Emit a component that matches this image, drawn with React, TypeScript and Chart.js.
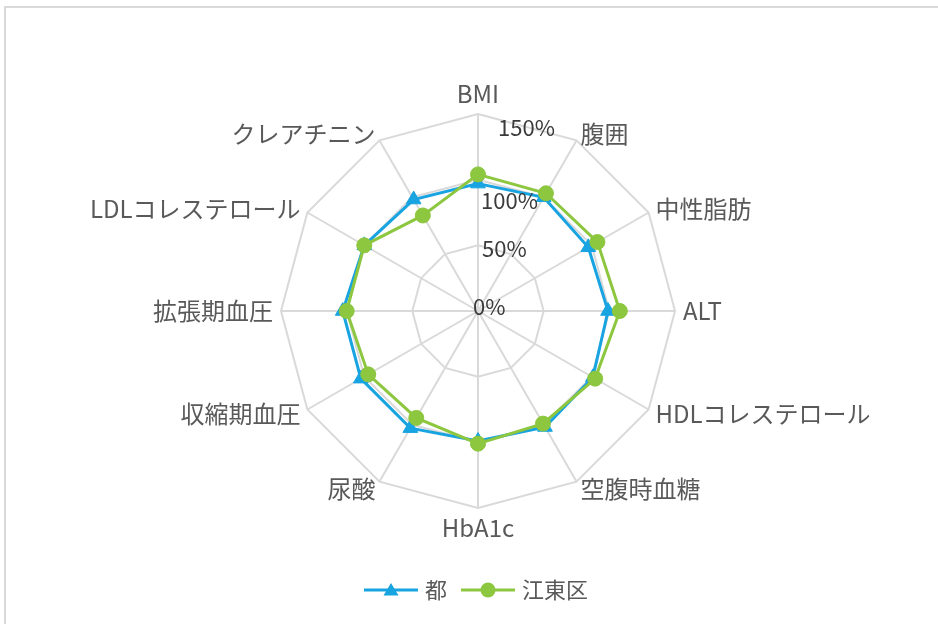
import React, { useEffect, useRef } from 'react';
import { Chart, registerables } from 'chart.js';

Chart.register(...registerables);

// ---- data ----
const CATEGORIES = [
  'BMI',
  '腹囲',
  '中性脂肪',
  'ALT',
  'HDLコレステロール',
  '空腹時血糖',
  'HbA1c',
  '尿酸',
  '収縮期血圧',
  '拡張期血圧',
  'LDLコレステロール',
  'クレアチニン',
];
const SERIES_NAMES = ['都', '江東区'];
const TOKYO_VALUES = [97, 100, 97, 99, 101, 102, 99, 103, 103, 103, 100, 98];
const KOTO_VALUES = [104, 103.5, 105, 108, 103, 99, 101, 94, 96.5, 100, 100, 84];
const SCALE_MIN = 0;
const SCALE_MAX = 150;
const SCALE_STEP = 50;
const TICK_SUFFIX = '%';

// ---- styles ----
const FONT = '"Noto Sans CJK JP", "Noto Sans", sans-serif';
const BLUE = '#18A3E1';
const GREEN = '#8DC63F';
const GRID = '#D9D9D9';
const LABEL_COLOR = '#595959';
const TICK_COLOR = '#3A3A3A';
const POINT_LABEL_GAP = 8;
// tick label nudges (dx from axis, dy from ring), Excel-like placement
const TICK_NUDGE: Record<number, [number, number]> = {
  0: [-5, -4],
  50: [4, 3],
  100: [3, 21],
  150: [20, 14],
};

function makeLegendMarker(color: string, kind: 'triangle' | 'circle') {
  const c = document.createElement('canvas');
  c.width = 54;
  c.height = 20;
  const ctx = c.getContext('2d')!;
  ctx.strokeStyle = color;
  ctx.lineWidth = 3;
  ctx.beginPath();
  ctx.moveTo(0, 10);
  ctx.lineTo(54, 10);
  ctx.stroke();
  ctx.fillStyle = color;
  ctx.beginPath();
  if (kind === 'triangle') {
    ctx.moveTo(27, 3);
    ctx.lineTo(34.5, 15.5);
    ctx.lineTo(19.5, 15.5);
    ctx.closePath();
  } else {
    ctx.arc(27, 10, 7.5, 0, Math.PI * 2);
  }
  ctx.fill();
  return c;
}

const radarTextPlugin = {
  id: 'radarText',
  afterDraw(chart: any) {
    const scale = chart.scales.r;
    const ctx = chart.ctx as CanvasRenderingContext2D;
    ctx.save();
    // category labels
    ctx.font = `24px ${FONT}`;
    ctx.fillStyle = LABEL_COLOR;
    ctx.textBaseline = 'middle';
    const r = scale.drawingArea;
    (chart.data.labels as string[]).forEach((label, i) => {
      const a = scale.getIndexAngle(i);
      const s = Math.sin(a);
      const vertical = Math.abs(s) < 0.01;
      const dist = r + POINT_LABEL_GAP + (vertical ? 12 : 0);
      const p = scale.getPointPosition(i, dist);
      ctx.textAlign = vertical ? 'center' : s > 0 ? 'left' : 'right';
      ctx.fillText(label, p.x, p.y);
    });
    // tick labels
    ctx.font = `22px ${FONT}`;
    ctx.fillStyle = TICK_COLOR;
    ctx.textAlign = 'left';
    ctx.textBaseline = 'middle';
    scale.ticks.forEach((t: any) => {
      const d = scale.getDistanceFromCenterForValue(t.value);
      const [dx, dy] = TICK_NUDGE[t.value] ?? [4, 8];
      ctx.fillText(`${t.value}${TICK_SUFFIX}`, scale.xCenter + dx, scale.yCenter - d + dy);
    });
    ctx.restore();
  },
};

export default function App() {
  const canvasRef = useRef<HTMLCanvasElement | null>(null);

  useEffect(() => {
    if (!canvasRef.current) return;
    Chart.defaults.font.family = FONT;
    const markers = [makeLegendMarker(BLUE, 'triangle'), makeLegendMarker(GREEN, 'circle')];
    const colors = [BLUE, GREEN];
    const chart = new Chart(canvasRef.current, {
      type: 'radar',
      data: {
        labels: CATEGORIES,
        datasets: [
          {
            label: SERIES_NAMES[0],
            data: TOKYO_VALUES,
            borderColor: BLUE,
            backgroundColor: BLUE,
            borderWidth: 3,
            fill: false,
            pointStyle: 'triangle',
            pointRadius: 8.5,
            pointBackgroundColor: BLUE,
            pointBorderColor: BLUE,
            pointBorderWidth: 1,
            order: 1,
          },
          {
            label: SERIES_NAMES[1],
            data: KOTO_VALUES,
            borderColor: GREEN,
            backgroundColor: GREEN,
            borderWidth: 3,
            fill: false,
            pointStyle: 'circle',
            pointRadius: 7.5,
            pointBackgroundColor: GREEN,
            pointBorderColor: GREEN,
            pointBorderWidth: 1,
            order: 0,
          },
        ],
      },
      options: {
        responsive: false,
        animation: false,
        devicePixelRatio: 1,
        layout: { padding: { left: 18, right: 0, top: 114, bottom: 13 } },
        scales: {
          r: {
            min: SCALE_MIN,
            max: SCALE_MAX,
            ticks: { stepSize: SCALE_STEP, display: false },
            pointLabels: { display: false },
            grid: { color: GRID, lineWidth: 2 },
            angleLines: { color: GRID, lineWidth: 2 },
          },
        },
        plugins: {
          tooltip: { enabled: false },
          title: {
            display: true,
            text: '',
            position: 'bottom',
            weight: 500,
            font: { size: 1 },
            padding: { top: 51, bottom: 0 },
          },
          legend: {
            position: 'bottom',
            labels: {
              usePointStyle: true,
              pointStyleWidth: 46,
              padding: 18,
              color: LABEL_COLOR,
              font: { size: 22, family: FONT },
              generateLabels: (c: any) =>
                c.data.datasets.map((ds: any, i: number) => ({
                  text: ds.label,
                  pointStyle: markers[i],
                  fillStyle: colors[i],
                  strokeStyle: colors[i],
                  lineWidth: 0,
                  fontColor: LABEL_COLOR,
                  hidden: false,
                  datasetIndex: i,
                })),
            },
          },
        },
      } as any,
      plugins: [radarTextPlugin],
    });
    return () => chart.destroy();
  }, []);

  return (
    <div
      style={{
        position: 'fixed',
        left: 0,
        top: 0,
        width: 938,
        height: 624,
        overflow: 'hidden',
        background: '#fff',
      }}
    >
      <div
        style={{
          position: 'absolute',
          left: 4,
          top: 6,
          right: -10,
          bottom: -10,
          borderTop: '2px solid #D9D9D9',
          borderLeft: '2px solid #D9D9D9',
        }}
      />
      <canvas
        ref={canvasRef}
        width={938}
        height={624}
        style={{ position: 'absolute', left: 0, top: 0, width: 938, height: 624 }}
      />
    </div>
  );
}
